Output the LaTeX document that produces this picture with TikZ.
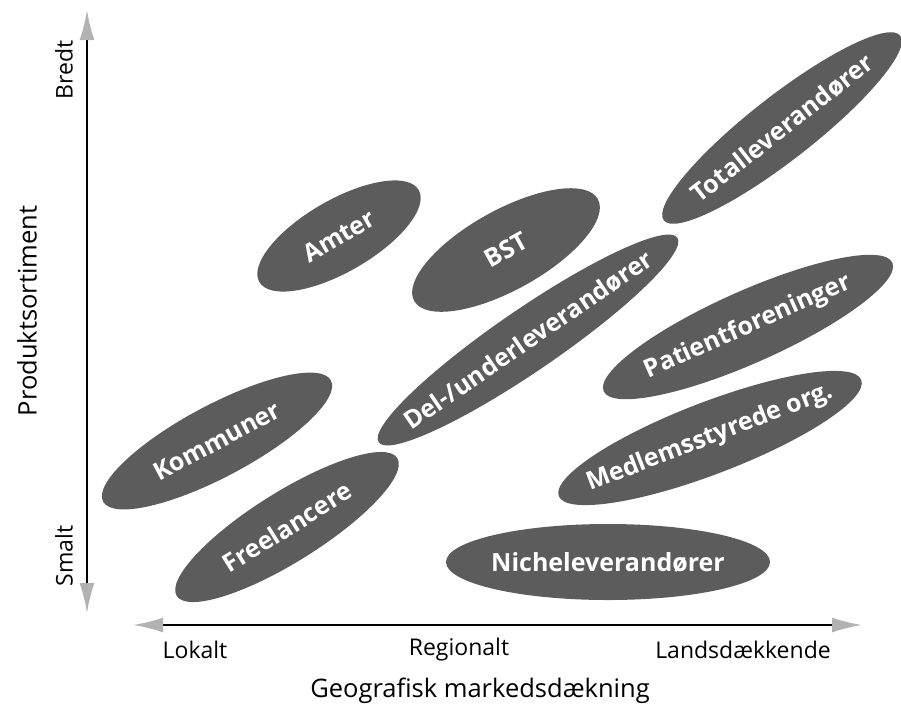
\documentclass[tikz,border=0pt]{standalone}
\usepackage{fontspec}
\setmainfont{Open Sans}
\usetikzlibrary{shapes.geometric,arrows.meta}
\begin{document}
\begin{tikzpicture}[x=1pt,y=-1pt,
 blob/.style={ellipse, fill=black!64, draw=none, inner sep=0pt},
 lbl/.style={text=white, font=\bfseries\fontsize{25}{29}\selectfont, inner sep=0pt},
 tick/.style={font=\fontsize{23}{26}\selectfont, inner sep=0pt},
 title/.style={font=\fontsize{25.5}{29}\selectfont, inner sep=0pt},
 tipg/.tip={Latex[length=30pt,width=15pt,fill=gray!60,color=gray!60]},
 axis/.style={line width=2.2pt, black, tipg-tipg}
]
\useasboundingbox (0,0) rectangle (901,716);

% axes
\coordinate (ytop) at (87,10);
\coordinate (ybot) at (87,613);
\coordinate (xleft) at (133,625);
\coordinate (xright) at (862,625);
\draw[axis] (ybot) -- (ytop);
\draw[axis] (xleft) -- (xright);

% axis texts
\node[tick, rotate=90] (bredt) at (64,70) {Bredt};
\node[tick, rotate=90] (smalt) at (64,556) {Smalt};
\node[title, rotate=90] (prod) at (27,311) {Produktsortiment};
\node[tick] (lok) at (195,650) {Lokalt};
\node[tick] (reg) at (459,650) {Regionalt};
\node[tick] (land) at (743,650) {Landsdækkende};
\node[title] (geo) at (480,691) {Geografisk markedsdækning};

% ellipses
\node[blob, minimum width=300, minimum height=64, rotate=38] (tot) at (782,128) {};
\node[lbl, rotate=38] at (tot) {Totalleverandører};

\node[blob, minimum width=184, minimum height=72, rotate=30] (amt) at (339,236) {};
\node[lbl, rotate=30] at (amt) {Amter};

\node[blob, minimum width=210, minimum height=80, rotate=29] (bst) at (506,250) {};
\node[lbl, rotate=29] at (bst) {BST};

\node[blob, minimum width=362, minimum height=62, rotate=34.4] (del) at (528,340) {};
\node[lbl, rotate=34.4] at (del) {Del-/underleverandører};

\node[blob, minimum width=316, minimum height=72, rotate=24] (pat) at (748,327) {};
\node[lbl, rotate=24] at (pat) {Patientforeninger};

\node[blob, minimum width=324, minimum height=72, rotate=21] (med) at (710,438) {};
\node[lbl, rotate=21] at (med) {Medlemsstyrede org.};

\node[blob, minimum width=324, minimum height=76] (nic) at (608,562) {};
\node[lbl] at (nic) {Nicheleverandører};

\node[blob, minimum width=258, minimum height=72, rotate=28] (kom) at (217,441) {};
\node[lbl, rotate=28] at (kom) {Kommuner};

\node[blob, minimum width=260, minimum height=70, rotate=32] (fre) at (287,527) {};
\node[lbl, rotate=32] at (fre) {Freelancere};
\end{tikzpicture}
\end{document}
